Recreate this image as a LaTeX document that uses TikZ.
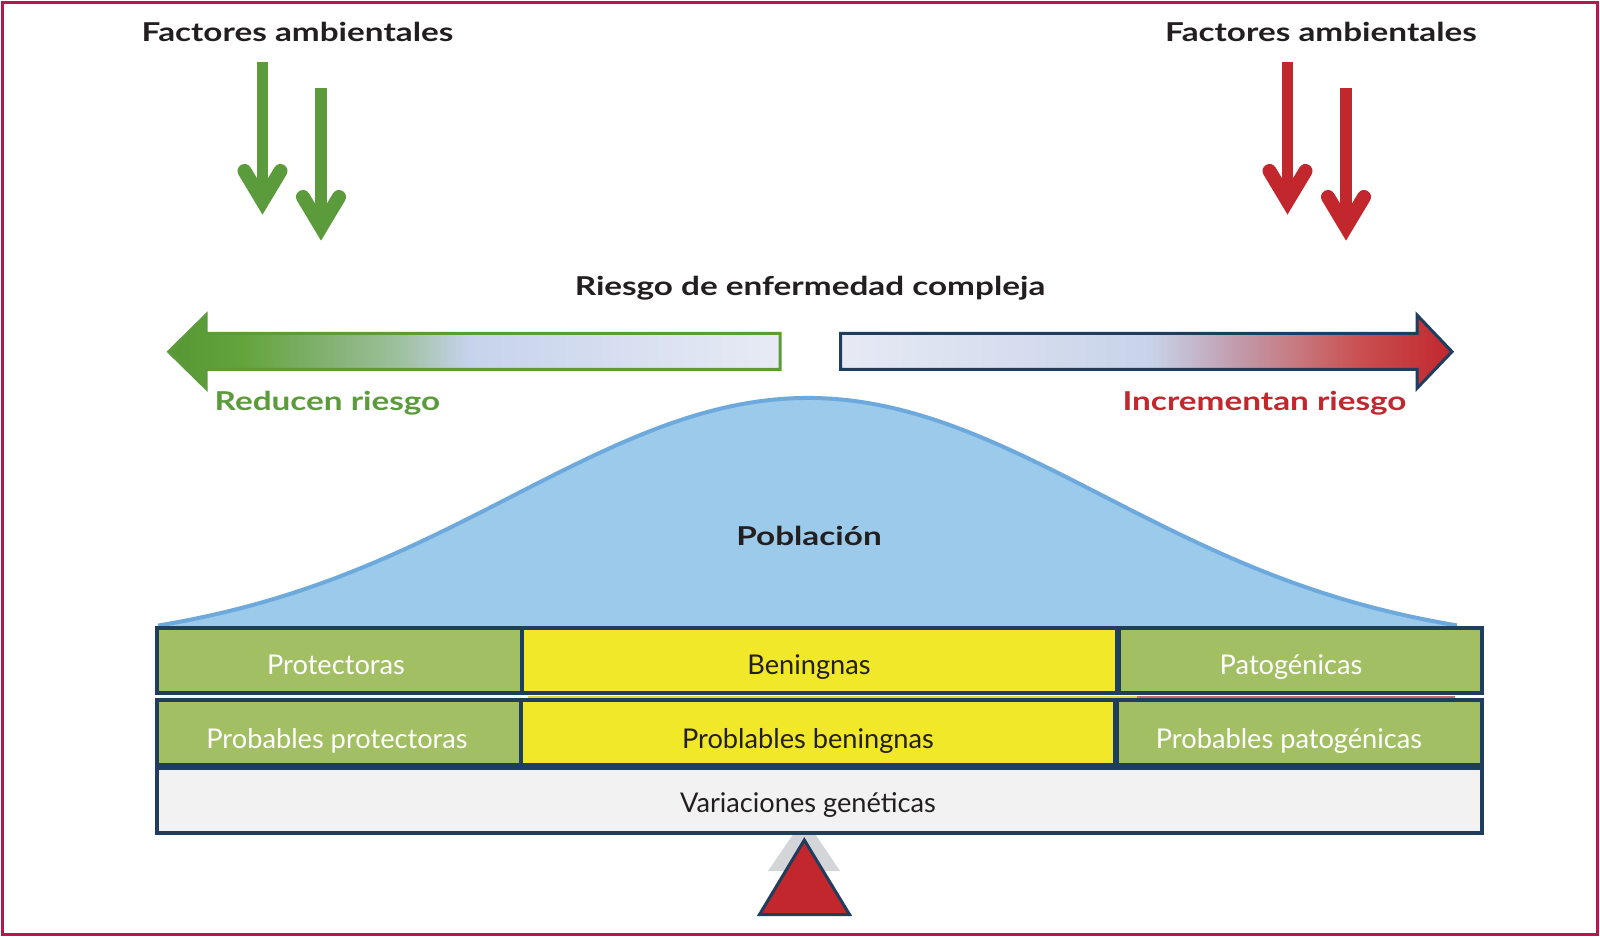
\documentclass[tikz,border=0pt]{standalone}
\usepackage{fontspec}
\setmainfont{Lato}
\newfontfamily\headfont[FakeStretch=1.28]{Lato}
\usetikzlibrary{calc}

% palette
\definecolor{frameRed}{HTML}{B7154B}
\definecolor{inkBlack}{HTML}{231F20}
\definecolor{arrowGreen}{HTML}{5B9B3C}
\definecolor{arrowRed}{HTML}{C1272D}
\definecolor{navy}{HTML}{1F3D5C}
\definecolor{popFill}{HTML}{9BCAEA}
\definecolor{popEdge}{HTML}{6DA9DD}
\definecolor{cellGreen}{HTML}{A3BF64}
\definecolor{cellYellow}{HTML}{F1E829}
\definecolor{cellGray}{HTML}{F2F2F2}
\definecolor{shadowGray}{HTML}{D3D5D8}

% left (protective) gradient
\definecolor{gA}{HTML}{579734}
\definecolor{gB}{HTML}{64A43C}
\definecolor{gC}{HTML}{80B06E}
\definecolor{gD}{HTML}{9EC09E}
\definecolor{gE}{HTML}{C6D3EC}
\definecolor{gF}{HTML}{E8EBF5}
% right (risk) gradient
\definecolor{rA}{HTML}{E7EAF4}
\definecolor{rB}{HTML}{C8D3EA}
\definecolor{rC}{HTML}{C19DAE}
\definecolor{rD}{HTML}{C7767C}
\definecolor{rE}{HTML}{C94F50}
\definecolor{rF}{HTML}{C1272D}

\pgfdeclarehorizontalshading{greenfade}{100bp}{color(0bp)=(gA); color(25bp)=(gA);
  color(31.2bp)=(gB); color(37.4bp)=(gC); color(43.9bp)=(gD); color(49.6bp)=(gE);
  color(75bp)=(gF); color(100bp)=(gF)}
\pgfdeclarehorizontalshading{redfade}{100bp}{color(0bp)=(rA); color(25bp)=(rA);
  color(50.3bp)=(rB); color(57.2bp)=(rC); color(62.6bp)=(rD); color(67.5bp)=(rE);
  color(75bp)=(rF); color(100bp)=(rF)}

% one environmental-factor arrow: #1 = x, #2 = top y, #3 = colour
\newcommand\factorarrow[3]{%
  \draw[#3, line width=5.8pt, line cap=butt] (#1,#2) -- (#1,#2+139);
  \draw[#3, line width=7pt, line cap=round, line join=miter]
    (#1-18,#2+109) -- (#1,#2+139) -- (#1+18,#2+109);
}

\tikzset{
  headtxt/.style={font=\headfont\bfseries\fontsize{13}{15}\selectfont, text=inkBlack, inner sep=0pt, anchor=base},
  celltxt/.style={font=\fontsize{13.6}{15}\selectfont, inner sep=0pt, anchor=base},
  cellbox/.style={draw=navy, line width=1.75pt},
}

\begin{document}
\begin{tikzpicture}[x=0.5pt, y=-0.5pt]
\useasboundingbox (0,0) rectangle (1600,937);
\fill[white] (0,0) rectangle (1600,937);

% outer frame
\draw[frameRed, line width=1.5pt] (2.5,2.5) rectangle (1597.5,934.5);

% headings
\node[headtxt] (envL) at (297.5,41.7) {Factores ambientales};
\node[headtxt] (envR) at (1321,41.7) {Factores ambientales};
\node[headtxt] (risk) at (810,295) {Riesgo de enfermedad compleja};

% environmental factor arrows
\factorarrow{262.5}{62}{arrowGreen}
\factorarrow{321}{88}{arrowGreen}
\factorarrow{1287.5}{62}{arrowRed}
\factorarrow{1346}{88}{arrowRed}

% risk direction bars
\path[shading=greenfade, draw=arrowGreen, line width=1.5pt, line join=miter]
  (168.7,351.7) -- (206,315) -- (206,333.3) -- (780,333.3) -- (780,369.3)
  -- (206,369.3) -- (206,388.3) -- cycle;
\path[shading=redfade, draw=navy, line width=1.5pt, line join=miter]
  (840.7,333.3) -- (1417,333.3) -- (1417,315) -- (1452,351.7) -- (1417,388.3)
  -- (1417,369.3) -- (840.7,369.3) -- cycle;

\node[headtxt, text=arrowGreen] (lower) at (327.5,410) {Reducen riesgo};
\node[headtxt, text=arrowRed] (raise) at (1264.5,410) {Incrementan riesgo};

% population distribution
\fill[popFill] plot[domain=158:1457, samples=140, smooth]
  (\x, {648-250*exp(-((\x-808)/296)^2/2)}) -- (1457,632) -- (158,632) -- cycle;
\draw[popEdge, line width=2pt] plot[domain=158:1457, samples=140, smooth]
  (\x, {648-250*exp(-((\x-808)/296)^2/2)});
\node[headtxt] (pop) at (809,545) {Población};

% fulcrum shadow
\fill[shadowGray] (804.3,818) -- (768,871) -- (840,871) -- cycle;

% thin seams between the two classification rows
\draw[line width=1pt, color=white!85!popFill] (160,697) -- (522,697);
\draw[line width=1pt, color=cellYellow!85!gray] (528,697) -- (1137,697);
\draw[line width=1pt, color=rE!85!white] (1137,697) -- (1455,697);

% classification rows
\draw[cellbox, fill=cellGreen]  (157,628) rectangle (522,693);
\draw[cellbox, fill=cellYellow] (522,628) rectangle (1117,693);
\draw[cellbox, fill=cellGreen]  (1119,628) rectangle (1482,693);

\draw[cellbox, fill=cellGreen]  (157,700) rectangle (521,765);
\draw[cellbox, fill=cellYellow] (521,700) rectangle (1115,765);
\draw[cellbox, fill=cellGreen]  (1117,700) rectangle (1482,765);

\draw[cellbox, fill=cellGray]   (157,768) rectangle (1482,833);

\node[celltxt, text=white]    (prot)   at (336,674)   {Protectoras};
\node[celltxt, text=inkBlack] (benig)  at (809,674)   {Beningnas};
\node[celltxt, text=white]    (pato)   at (1291,674)  {Patogénicas};
\node[celltxt, text=white]    (pprot)  at (337,748)   {Probables protectoras};
\node[celltxt, text=inkBlack] (pbenig) at (808,748)   {Problables beningnas};
\node[celltxt, text=white]    (ppato)  at (1289,748)  {Probables patogénicas};
\node[celltxt, text=inkBlack] (var)    at (808,812.7) {Variaciones genéticas};

% fulcrum
\draw[navy, fill=arrowRed, line width=1.5pt, line join=miter]
  (804.3,840) -- (759.5,914.5) -- (849.5,914.5) -- cycle;
\end{tikzpicture}
\end{document}
